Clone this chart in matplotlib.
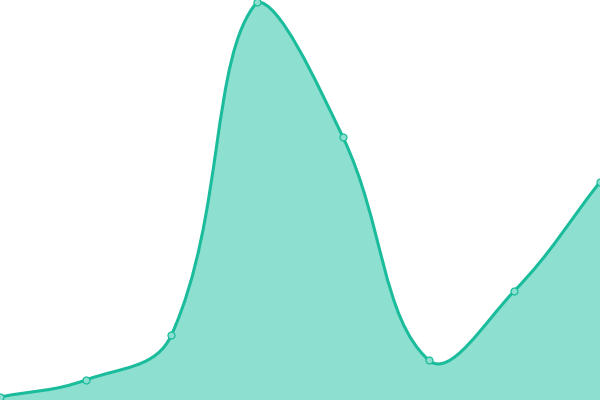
import numpy as np
import matplotlib
matplotlib.use('Agg')
import matplotlib.pyplot as plt
from matplotlib.path import Path
from matplotlib.patches import PathPatch

# Series values
labels = ['1', '2', '3', '4', '5', '6', '7', '8']
values = [3, 20, 65, 398, 263, 40, 109, 218]

line_color = '#1abc9c'
fill_color = '#8ddfcf'
tension = 0.4


def spline_controls(pts, t):
    """Chart.js style spline control points for a list of (x, y) display points."""
    n = len(pts)
    ctrl = []
    for i in range(n):
        prev = pts[i - 1] if i > 0 else pts[i]
        cur = pts[i]
        nxt = pts[i + 1] if i < n - 1 else pts[i]
        d01 = np.hypot(*(cur - prev))
        d12 = np.hypot(*(nxt - cur))
        tot = d01 + d12
        s01 = d01 / tot if tot else 0
        s12 = d12 / tot if tot else 0
        fa = t * s01
        fb = t * s12
        ctrl.append((cur - fa * (nxt - prev), cur + fb * (nxt - prev)))
    return ctrl


fig = plt.figure(figsize=(6, 4), dpi=100)
ax = fig.add_axes([0, 0, 1, 1])
ax.set_xlim(0, len(values) - 1)
ax.set_ylim(0, 400)
ax.axis('off')

x = np.arange(len(values))
disp = ax.transData.transform(np.column_stack([x, values]))
ctrl = spline_controls(disp, tension)

# cap control points inside the chart area
x0, y0 = ax.transData.transform((0, 0))
x1, y1 = ax.transData.transform((len(values) - 1, 400))
verts = [disp[0]]
codes = [Path.MOVETO]
for i in range(len(values) - 1):
    c1 = np.clip(ctrl[i][1], [x0, y0], [x1, y1])
    c2 = np.clip(ctrl[i + 1][0], [x0, y0], [x1, y1])
    verts += [c1, c2, disp[i + 1]]
    codes += [Path.CURVE4] * 3

inv = ax.transData.inverted()
data_verts = inv.transform(np.array(verts))

line_path = Path(data_verts, codes)
fill_verts = np.vstack([data_verts, [[x[-1], 0], [x[0], 0], data_verts[0]]])
fill_codes = codes + [Path.LINETO, Path.LINETO, Path.CLOSEPOLY]
fill_path = Path(fill_verts, fill_codes)

ax.add_patch(PathPatch(fill_path, facecolor=fill_color, edgecolor='none'))
ax.add_patch(PathPatch(line_path, facecolor='none', edgecolor=line_color,
                       linewidth=2.2, capstyle='round', joinstyle='round'))
ax.plot(x, values, linestyle='none', marker='o', markersize=5,
        markerfacecolor=fill_color, markeredgecolor=line_color,
        markeredgewidth=0.9, clip_on=True)

fig.savefig('out.png', dpi=100)
